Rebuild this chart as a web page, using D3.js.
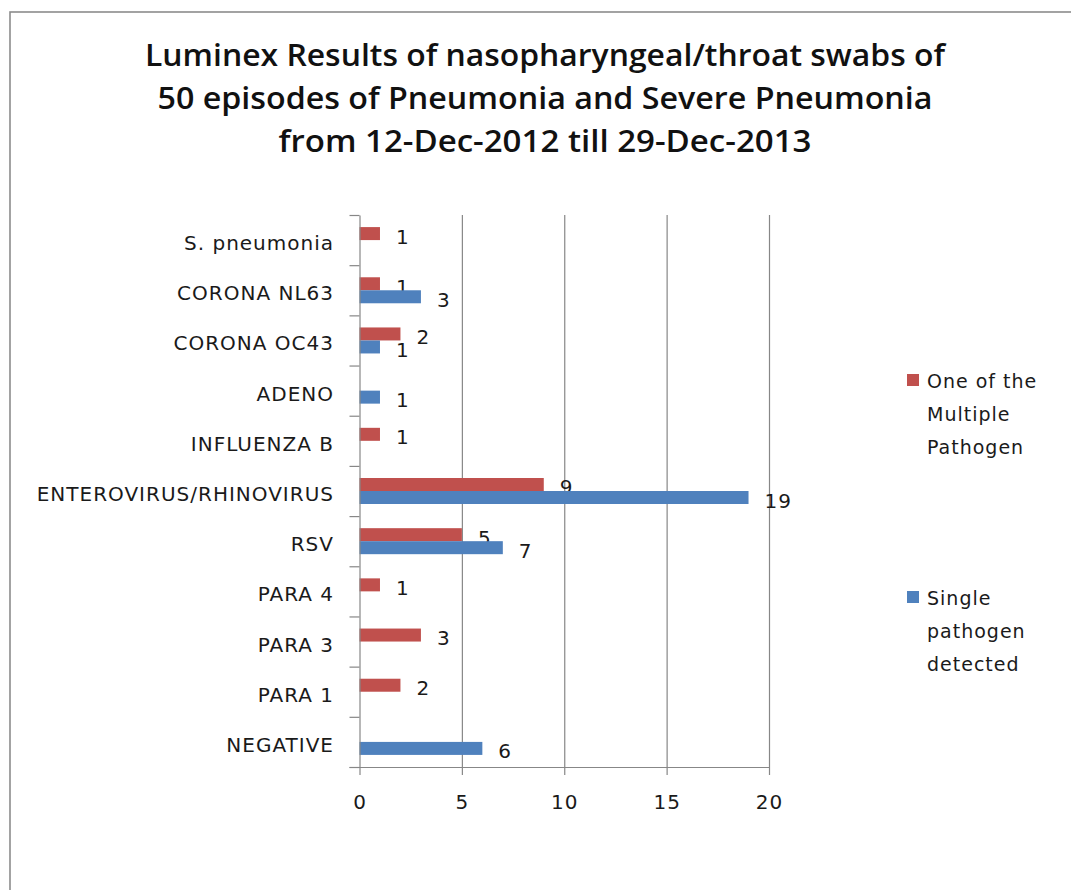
<!DOCTYPE html>
<html>
<head>
<meta charset="utf-8">
<script src="https://cdn.jsdelivr.net/npm/d3@7"></script>
<style>
  html, body { margin: 0; padding: 0; background: #fff; }
  svg { display: block; }
</style>
</head>
<body>
<script>
// Luminex panel results per pathogen, split by single vs. multiple detection
const categories = [
  "S. pneumonia", "CORONA NL63", "CORONA OC43", "ADENO", "INFLUENZA B",
  "ENTEROVIRUS/RHINOVIRUS", "RSV", "PARA 4", "PARA 3", "PARA 1", "NEGATIVE"
];
const multiplePathogen = [1, 1, 2, 0, 1, 9, 5, 1, 3, 2, 0];
const singlePathogen   = [0, 3, 1, 1, 0, 19, 7, 0, 0, 0, 6];
const xTicks = [0, 5, 10, 15, 20];
const titleLines = [
  "Luminex Results of nasopharyngeal/throat swabs of",
  "50 episodes of Pneumonia and Severe Pneumonia",
  "from 12-Dec-2012 till 29-Dec-2013"
];
const seriesNames = ["One of the Multiple Pathogen", "Single pathogen detected"];
const legendLines = [["One of the", "Multiple", "Pathogen"], ["Single", "pathogen", "detected"]];

const W = 1071, H = 890;
const RED = "#c0504d", BLUE = "#4f81bd", GRID = "#878787";
const FONT = "'DejaVu Sans', Verdana, sans-serif";

const svg = d3.select("body").append("svg").attr("width", W).attr("height", H);

// chart frame
svg.append("rect").attr("x", 10).attr("y", 12).attr("width", W + 10).attr("height", H + 10)
  .attr("fill", "#fff").attr("stroke", "#8c8c8c").attr("stroke-width", 1.6);

// title
const titleWidths = [800, 775, 533];
svg.append("g").selectAll("text").data(titleLines).join("text")
  .attr("x", 545).attr("y", (d, i) => 66 + i * 43)
  .attr("text-anchor", "middle")
  .attr("font-family", "'Open Sans', sans-serif").attr("font-weight", 600)
  .attr("font-size", 30).attr("fill", "#111")
  .attr("textLength", (d, i) => titleWidths[i]).attr("lengthAdjust", "spacingAndGlyphs")
  .text(d => d);

// scales
const plot = { left: 359.5, right: 769, top: 215, bottom: 767 };
const x = d3.scaleLinear().domain([0, 20]).range([plot.left, plot.right]);
const y0 = d3.scaleBand().domain(categories).range([plot.top, plot.bottom]);
const y1 = d3.scaleBand().domain(["multiple", "single"]).range([0, y0.bandwidth()])
  .paddingInner(0).paddingOuter(0.93);
const yEdges = d3.scaleLinear().domain([0, categories.length]).range([plot.top, plot.bottom]);

// vertical gridlines
svg.append("g").attr("transform", `translate(0,${plot.bottom})`)
  .call(d3.axisBottom(x).tickValues(xTicks.slice(1)).tickSize(-(plot.bottom - plot.top)).tickFormat(""))
  .call(g => g.select(".domain").remove())
  .call(g => g.selectAll("line").attr("stroke", GRID).attr("stroke-width", 1.2));

// bars
const rows = categories.map((c, i) => ({ c, multiple: multiplePathogen[i], single: singlePathogen[i] }));
const series = [
  { key: "multiple", color: RED },
  { key: "single", color: BLUE }
];
const barG = svg.append("g");
series.forEach(s => {
  const data = rows.filter(r => r[s.key] > 0);
  barG.selectAll(null).data(data).join("rect")
    .attr("x", x(0))
    .attr("y", d => y0(d.c) + y1(s.key))
    .attr("width", d => x(d[s.key]) - x(0))
    .attr("height", y1.bandwidth())
    .attr("fill", s.color);
  barG.selectAll(null).data(data).join("text")
    .attr("x", d => x(d[s.key]) + 16)
    .attr("y", d => y0(d.c) + y1(s.key) + y1.bandwidth() / 2 + 3)
    .attr("dominant-baseline", "central")
    .attr("font-family", FONT).attr("font-size", 20).attr("letter-spacing", 1)
    .attr("fill", "#1a1a1a")
    .text(d => d[s.key]);
});

// y axis: line, boundary ticks, category labels
svg.append("g").attr("transform", `translate(${plot.left},0)`)
  .call(d3.axisLeft(yEdges).tickValues(d3.range(categories.length + 1))
    .tickSize(10).tickSizeOuter(0).tickFormat(""))
  .call(g => g.selectAll("line, path").attr("stroke", GRID).attr("stroke-width", 1.2));

svg.append("g").selectAll("text").data(categories).join("text")
  .attr("x", 334).attr("y", d => y0(d) + y0.bandwidth() / 2 + 3)
  .attr("text-anchor", "end").attr("dominant-baseline", "central")
  .attr("font-family", FONT).attr("font-size", 20).attr("letter-spacing", 1)
  .attr("fill", "#1a1a1a")
  .text(d => d);

// x axis
svg.append("g").attr("transform", `translate(0,${plot.bottom})`)
  .call(d3.axisBottom(x).tickValues(xTicks).tickSize(8).tickSizeOuter(0).tickPadding(20))
  .call(g => g.selectAll("line, path").attr("stroke", GRID).attr("stroke-width", 1.2))
  .call(g => g.select(".domain").attr("d", `M${plot.left - 10},0.5H${plot.right}`))
  .call(g => g.selectAll("text").attr("font-family", FONT).attr("font-size", 20)
    .attr("letter-spacing", 1).attr("fill", "#1a1a1a"));

// legend
const legend = svg.append("g");
const legendTop = [381, 598];
[RED, BLUE].forEach((col, i) => {
  legend.append("rect").attr("x", 907).attr("y", legendTop[i] - 7).attr("width", 12).attr("height", 12)
    .attr("fill", col);
  legend.append("g").selectAll("text").data(legendLines[i]).join("text")
    .attr("x", 927).attr("y", (d, j) => legendTop[i] + j * 33)
    .attr("dominant-baseline", "central")
    .attr("font-family", FONT).attr("font-size", 19).attr("letter-spacing", 1)
    .attr("fill", "#1a1a1a")
    .text(d => d);
});
</script>
</body>
</html>
